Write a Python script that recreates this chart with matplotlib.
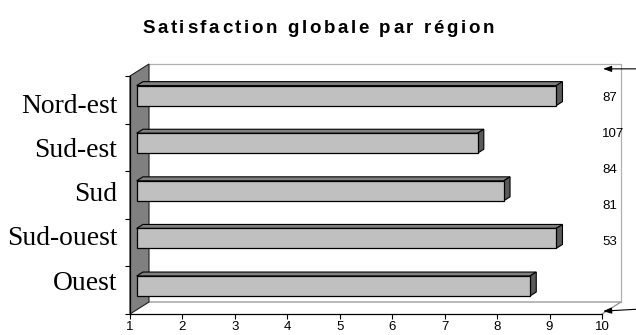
import matplotlib.pyplot as plt
from matplotlib.patches import Polygon

# Données : note moyenne par région (de haut en bas) et effectifs affichés à droite
regions = ["Nord-est", "Sud-est", "Sud", "Sud-ouest", "Ouest"]
notes = [9.0, 7.5, 8.0, 9.0, 8.5]
effectifs = [87, 107, 84, 81, 53]
graduations = list(range(1, 11))
titre = "Satisfaction globale par région"

# --- géométrie de la pseudo-3D (unités des données) ---
PX_X = 472 / 9          # pixels par unité de note
PX_Y = 238 / 5          # pixels par catégorie
DX = 19 / PX_X          # décalage de profondeur horizontal
DY = 12 / PX_Y          # décalage de profondeur vertical
D0, D1 = 0.35, 0.68     # profondeur avant / arrière des barres
HAUT = 0.42             # épaisseur des barres

FACE = "#c0c0c0"
DESSUS = "#808080"
COTE = "#5a5a5a"


def texte_espace(fig, s, xc, yc, ecart, **kw):
    """Texte centré avec un espacement supplémentaire entre les lettres (en pixels)."""
    r = fig.canvas.get_renderer()

    def largeur(txt):
        t = fig.text(0, 0, txt + "|", **kw)
        w = t.get_window_extent(r).width
        t.remove()
        return w

    w_bar = largeur("")
    avances = [largeur(s[:k]) - w_bar for k in range(len(s) + 1)]
    total = avances[-1] + ecart * (len(s) - 1)
    W, H = fig.bbox.width, fig.bbox.height
    x0 = xc * W - total / 2
    for k, ch in enumerate(s):
        if ch == " ":
            continue
        fig.text((x0 + avances[k] + k * ecart) / W, yc, ch, ha="left", va="baseline", **kw)


fig = plt.figure(figsize=(6.36, 3.35), dpi=100)
ax = fig.add_axes([130 / 636, 21 / 335, 472 / 636, 238 / 335])
ax.set_xlim(1, 10)
ax.set_ylim(0, 5)
n = len(regions)
xmin, xmax = graduations[0], graduations[-1]

# mur du fond, sol et paroi gauche
fond = Polygon([(xmin + DX, DY), (xmax + DX, DY), (xmax + DX, n + DY), (xmin + DX, n + DY)],
               closed=True, facecolor="white", edgecolor="none", clip_on=False, zorder=0)
ax.add_patch(fond)
ax.plot([xmin + DX, xmax + DX, xmax + DX], [n + DY, n + DY, DY], color="#b0b0b0", lw=0.9,
        clip_on=False, zorder=1)
ax.plot([xmin + DX, xmax + DX, xmax], [DY, DY, 0], color="#909090", lw=0.9,
        clip_on=False, zorder=1)
mur = Polygon([(xmin, 0), (xmin, n), (xmin + DX, n + DY), (xmin + DX, DY)],
              closed=True, facecolor="#808080", edgecolor="#202020", lw=0.8,
              clip_on=False, zorder=2)
ax.add_patch(mur)

# barres 3D : face avant, dessus, extrémité
for i, (reg, v) in enumerate(zip(regions, notes)):
    yc = n - i - 0.5
    x0 = xmin + D0 * DX
    x1 = v + D0 * DX
    yb = yc - HAUT / 2 + D0 * DY
    yt = yc + HAUT / 2 + D0 * DY
    ddx = (D1 - D0) * DX
    ddy = (D1 - D0) * DY
    dessus = Polygon([(x0, yt), (x1, yt), (x1 + ddx, yt + ddy), (x0 + ddx, yt + ddy)],
                     closed=True, facecolor=DESSUS, edgecolor="black", lw=0.8,
                     clip_on=False, zorder=3)
    cote = Polygon([(x1, yb), (x1, yt), (x1 + ddx, yt + ddy), (x1 + ddx, yb + ddy)],
                   closed=True, facecolor=COTE, edgecolor="black", lw=0.8,
                   clip_on=False, zorder=3)
    face = Polygon([(x0, yb), (x1, yb), (x1, yt), (x0, yt)],
                   closed=True, facecolor=FACE, edgecolor="black", lw=0.9,
                   clip_on=False, zorder=4)
    ax.add_patch(dessus)
    ax.add_patch(cote)
    ax.add_patch(face)

# axes
for s in ["top", "right"]:
    ax.spines[s].set_visible(False)
ax.spines["bottom"].set_linewidth(0.9)
ax.spines["left"].set_linewidth(0.9)
ax.spines["bottom"].set_zorder(5)
ax.spines["left"].set_zorder(5)
ax.set_xticks(graduations)
ax.set_xticklabels([str(g) for g in graduations], fontsize=9.5, family="Liberation Sans")
ax.tick_params(axis="x", direction="out", length=3.5, width=0.8, pad=1.5)

ax.set_yticks(range(n + 1), minor=True)
ax.tick_params(axis="y", which="minor", direction="out", length=3.5, width=0.8)
pos_lab = [0.71 + 0.93 * k for k in range(n)][::-1]
ax.set_yticks(pos_lab)
ax.set_yticklabels(regions, fontsize=19.8, family="Liberation Serif")
ax.tick_params(axis="y", which="major", length=0, pad=9)
ax.set_facecolor("none")

# effectifs à droite et flèches
pos_eff = [4.54 - 0.756 * k for k in range(n)]
for e, y in zip(effectifs, pos_eff):
    ax.text(xmax, y, str(e), fontsize=9.5, family="Liberation Sans",
            ha="left", va="center", clip_on=False, zorder=6)
fl = dict(arrowstyle="-|>,head_length=0.5,head_width=0.18", color="black", lw=0.8,
          shrinkA=0, shrinkB=0)
ax.annotate("", xy=(xmax + 0.02, n + 0.15), xytext=(xmax + 0.66, n + 0.15),
            arrowprops=fl, annotation_clip=False)
ax.annotate("", xy=(xmax + 0.02, 0.06), xytext=(xmax + 0.66, 0.1),
            arrowprops=fl, annotation_clip=False)

texte_espace(fig, titre, 0.5, 1 - 33 / 335, 2.6,
             fontsize=13.5, fontweight="bold", family="Liberation Sans")

fig.savefig("out.png", dpi=100)
